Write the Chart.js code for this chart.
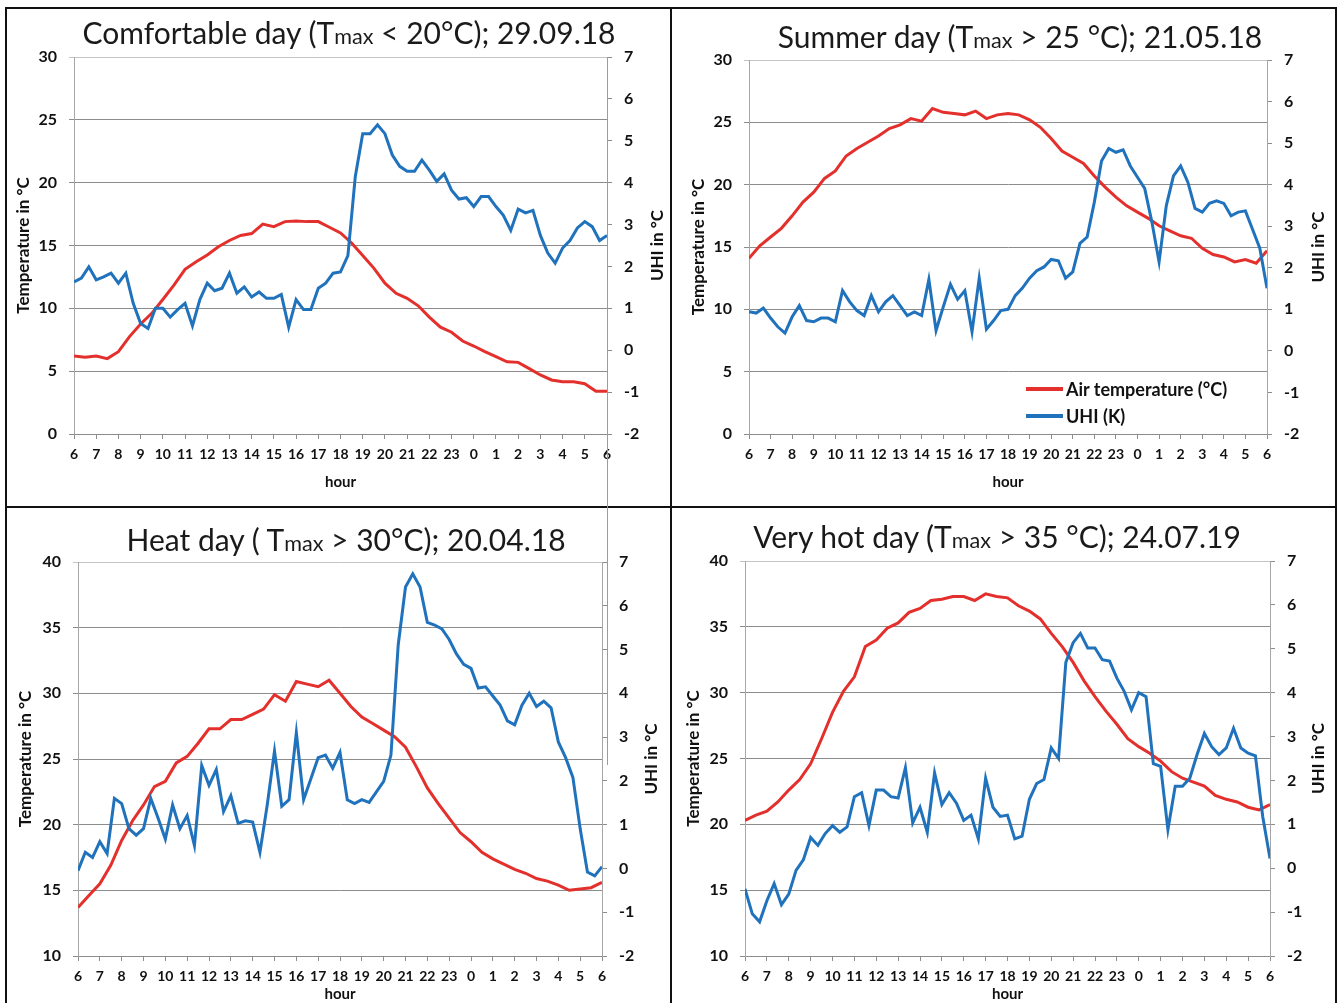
<!DOCTYPE html>
<html>
<head>
<meta charset="utf-8">
<script src="https://cdn.jsdelivr.net/npm/chart.js@4.4.1/dist/chart.umd.min.js"></script>
<style>
  html, body { margin: 0; padding: 0; background: #fff; }
  body { width: 1341px; height: 1003px; position: relative; overflow: hidden; font-family: Lato, "Open Sans", sans-serif; }
  .line { position: absolute; background: #111; }
  .panel { position: absolute; }
  .panel canvas { display: block; }
  .title { position: absolute; width: 640px; text-align: center; font-size: 30px; line-height: 34px; color: #1a1a1a; white-space: nowrap; }
  .title span { font-size: 0.72em; }
  .legend { position: absolute; font-weight: bold; font-size: 18px; color: #111; }
  .legend div { display: flex; align-items: center; height: 27px; white-space: nowrap; }
  .legend i { display: inline-block; width: 37px; height: 4px; margin-right: 3px; }
</style>
</head>
<body>

<!-- frame lines -->
<div class="line" style="left:5px;top:7px;width:2px;height:996px"></div>
<div class="line" style="left:5px;top:7px;width:1332px;height:2px"></div>
<div class="line" style="left:1335px;top:7px;width:2px;height:996px"></div>
<div class="line" style="left:670px;top:7px;width:2px;height:996px"></div>
<div class="line" style="left:5px;top:506px;width:1332px;height:2px"></div>

<div class="panel" style="left:7px;top:9px;width:663px;height:497px"><canvas id="c1"></canvas></div>
<div class="panel" style="left:672px;top:9px;width:663px;height:497px"><canvas id="c2"></canvas></div>
<div class="panel" style="left:7px;top:508px;width:663px;height:495px"><canvas id="c3"></canvas></div>
<div class="panel" style="left:672px;top:508px;width:663px;height:495px"><canvas id="c4"></canvas></div>

<!-- right axis of the first chart runs on into the lower panel -->
<div style="position:absolute;left:607px;top:434px;width:1px;height:331px;background:#7f9fd6"></div>

<div class="title" id="t1" style="left:29px;top:15px"></div>
<div class="title" id="t2" style="left:700px;top:19px"></div>
<div class="title" id="t3" style="left:26px;top:522px"></div>
<div class="title" id="t4" style="left:677px;top:519px"></div>

<div class="legend" id="legend" style="left:1026px;top:375px"></div>

<script>
// hour labels along the x axis (06:00 to 06:00 next day)
const hourTicks = [6, 7, 8, 9, 10, 11, 12, 13, 14, 15, 16, 17, 18, 19, 20, 21, 22, 23, 0, 1, 2, 3, 4, 5, 6];

const seriesNames = ['Air temperature (°C)', 'UHI (K)'];

// titles split around the small "max" of Tmax
const titles = [
    ['Comfortable day (T', 'max', ' < 20°C); 29.09.18'],
    ['Summer day (T', 'max', ' > 25 °C); 21.05.18'],
    ['Heat day ( T', 'max', ' > 30°C); 20.04.18'],
    ['Very hot day (T', 'max', ' > 35 °C); 24.07.19']
];

// --- air temperature, every 30 min from 06:00 ---
const tempComfort = [6.2, 6.1, 6.2, 6.0, 6.55, 7.75, 8.75, 9.6, 10.7, 11.85, 13.1, 13.7, 14.25, 14.9, 15.4, 15.8, 15.95, 16.7, 16.5, 16.9, 16.95, 16.9, 16.9, 16.45, 16.0,
    15.2, 14.2, 13.2, 12.0, 11.2, 10.8, 10.2, 9.3, 8.5, 8.1, 7.4, 7.0, 6.55, 6.15, 5.75, 5.7, 5.2, 4.7, 4.3, 4.15, 4.15, 4.0, 3.4, 3.4];
const tempSummer = [14.1, 15.1, 15.8, 16.5, 17.5, 18.6, 19.4, 20.5, 21.1, 22.3, 22.9, 23.4, 23.9, 24.5, 24.8, 25.3, 25.1, 26.1, 25.8, 25.7, 25.6, 25.9, 25.3, 25.6, 25.7,
    25.6, 25.2, 24.6, 23.7, 22.7, 22.2, 21.7, 20.7, 19.8, 19.0, 18.3, 17.8, 17.3, 16.7, 16.3, 15.9, 15.7, 14.9, 14.4, 14.2, 13.8, 14.0, 13.7, 14.7];
const tempHeat = [13.7, 14.6, 15.5, 16.9, 18.8, 20.3, 21.5, 22.9, 23.3, 24.7, 25.2, 26.2, 27.3, 27.3, 28.0, 28.0, 28.4, 28.8, 29.9, 29.4, 30.9, 30.7, 30.5, 31.0, 30.0,
    29.0, 28.2, 27.7, 27.2, 26.7, 25.9, 24.4, 22.8, 21.6, 20.5, 19.4, 18.7, 17.9, 17.4, 17.0, 16.6, 16.3, 15.9, 15.7, 15.4, 15.0, 15.1, 15.2, 15.6];
const tempHot = [20.3, 20.7, 21.0, 21.7, 22.6, 23.4, 24.6, 26.5, 28.5, 30.1, 31.2, 33.5, 34.0, 34.9, 35.3, 36.1, 36.4, 37.0, 37.1, 37.3, 37.3, 37.0, 37.5, 37.3, 37.2,
    36.6, 36.2, 35.6, 34.5, 33.5, 32.3, 30.9, 29.7, 28.6, 27.6, 26.5, 25.9, 25.4, 24.8, 24.0, 23.5, 23.2, 22.9, 22.2, 21.9, 21.7, 21.3, 21.1, 21.5];

// --- UHI, every 20 min from 06:00 ---
const uhiComfort = [1.63, 1.72, 1.99, 1.68, 1.75, 1.84, 1.6, 1.84, 1.12, 0.64, 0.52, 1.0, 1.0, 0.79, 0.97, 1.12, 0.58, 1.21, 1.6, 1.42,
    1.48, 1.84, 1.36, 1.51, 1.27, 1.39, 1.24, 1.24, 1.33, 0.55, 1.21, 0.97, 0.97, 1.48, 1.6, 1.84, 1.87,
    2.26, 4.15, 5.17, 5.17, 5.38, 5.17, 4.66, 4.39, 4.27, 4.27, 4.54, 4.3, 4.03, 4.21, 3.82, 3.61, 3.64, 3.43, 3.67, 3.67,
    3.43, 3.22, 2.86, 3.37, 3.28, 3.34, 2.74, 2.32, 2.08, 2.44, 2.62, 2.92, 3.07, 2.95, 2.62, 2.74];
const uhiSummer = [0.94, 0.91, 1.03, 0.79, 0.58, 0.43, 0.82, 1.09, 0.73, 0.70, 0.79, 0.79, 0.70, 1.45, 1.18, 0.97, 0.85, 1.33, 0.94, 1.18,
    1.33, 1.09, 0.85, 0.94, 0.85, 1.72, 0.49, 1.06, 1.60, 1.24, 1.45, 0.46, 1.75, 0.52, 0.73, 0.97, 1.0,
    1.33, 1.51, 1.75, 1.93, 2.02, 2.2, 2.17, 1.75, 1.9, 2.59, 2.74, 3.58, 4.57, 4.87, 4.78, 4.84, 4.45, 4.18, 3.91, 3.1,
    2.14, 3.49, 4.21, 4.45, 4.06, 3.43, 3.34, 3.55, 3.61, 3.55, 3.25, 3.34, 3.37, 2.92, 2.47, 1.51];
const uhiHeat = [-0.05, 0.37, 0.25, 0.61, 0.34, 1.6, 1.48, 0.91, 0.76, 0.91, 1.6, 1.15, 0.67, 1.45, 0.91, 1.21, 0.52, 2.35, 1.9, 2.26,
    1.3, 1.66, 1.03, 1.09, 1.06, 0.37, 1.45, 2.68, 1.42, 1.57, 3.1, 1.57, 2.05, 2.53, 2.59, 2.29, 2.65,
    1.57, 1.48, 1.57, 1.51, 1.75, 1.99, 2.59, 5.11, 6.43, 6.73, 6.43, 5.62, 5.56, 5.47, 5.23, 4.9, 4.66, 4.57, 4.12, 4.15,
    3.94, 3.73, 3.37, 3.28, 3.73, 4.0, 3.7, 3.82, 3.67, 2.89, 2.53, 2.08, 0.91, -0.08, -0.17, 0.04];
const uhiHot = [-0.47, -1.04, -1.22, -0.74, -0.35, -0.83, -0.59, -0.05, 0.19, 0.7, 0.52, 0.79, 0.97, 0.82, 0.94, 1.63, 1.72, 0.97, 1.78, 1.78,
    1.63, 1.6, 2.29, 1.03, 1.39, 0.82, 2.17, 1.45, 1.72, 1.48, 1.09, 1.21, 0.67, 2.05, 1.39, 1.18, 1.21,
    0.67, 0.73, 1.57, 1.93, 2.02, 2.74, 2.5, 4.69, 5.14, 5.35, 5.02, 5.02, 4.75, 4.72, 4.33, 4.03, 3.61, 4.0, 3.91,
    2.38, 2.32, 0.88, 1.87, 1.87, 2.05, 2.59, 3.07, 2.77, 2.59, 2.74, 3.19, 2.74, 2.62, 2.56, 1.18, 0.22];

const RED = '#e3302c';
const BLUE = '#1f72bb';
const GRID = '#8c8c8c';

// spread a series evenly over the 24 hours of the day
function toPoints(values) {
    const step = 24 / (values.length - 1);
    return values.map((v, i) => ({ x: i * step, y: v }));
}

// right axis title reads bottom to top, like the left one
const rightTitle = {
    id: 'rightTitle',
    afterDraw(chart, args, opts) {
        const { ctx, chartArea } = chart;
        ctx.save();
        ctx.translate(opts.x, (chartArea.top + chartArea.bottom) / 2);
        ctx.rotate(-Math.PI / 2);
        ctx.font = 'bold 17px Lato';
        ctx.fillStyle = '#111';
        ctx.textAlign = 'center';
        ctx.textBaseline = 'middle';
        ctx.fillText(opts.text, 0, 0);
        ctx.restore();
    }
};

// layout of every panel, in pixels inside its box
const panels = [
    { canvas: 'c1', temp: tempComfort, uhi: uhiComfort, tMin: 0, tMax: 30, area: { l: 67, t: 48, r: 63, b: 72 }, pad: { left: 6, hour: 15 }, rightX: 651, rightAxis: '#7f9fd6' },
    { canvas: 'c2', temp: tempSummer, uhi: uhiSummer, tMin: 0, tMax: 30, area: { l: 77, t: 51, r: 68, b: 72 }, pad: { left: 16, hour: 15 }, rightX: 647, rightAxis: '#a6a6a6' },
    { canvas: 'c3', temp: tempHeat, uhi: uhiHeat, tMin: 10, tMax: 40, area: { l: 71, t: 54, r: 68, b: 47 }, pad: { left: 8, hour: 0 }, rightX: 645, rightAxis: '#a6a6a6' },
    { canvas: 'c4', temp: tempHot, uhi: uhiHot, tMin: 10, tMax: 40, area: { l: 73, t: 53, r: 65, b: 47 }, pad: { left: 11, hour: 0 }, rightX: 647, rightAxis: '#a6a6a6' }
];

const tickFont = { family: 'Lato', size: 16, weight: 'bold' };
const axisFont = { family: 'Lato', size: 17, weight: 'bold' };

const charts = panels.map(p => new Chart(document.getElementById(p.canvas), {
    type: 'line',
    data: {
        datasets: [
            { label: seriesNames[0], data: toPoints(p.temp), yAxisID: 'y', borderColor: RED, borderWidth: 3, pointRadius: 0, order: 1 },
            { label: seriesNames[1], data: toPoints(p.uhi), yAxisID: 'y1', borderColor: BLUE, borderWidth: 3, pointRadius: 0, order: 0 }
        ]
    },
    plugins: [rightTitle],
    options: {
        responsive: true,
        maintainAspectRatio: false,
        animation: false,
        layout: { padding: { top: p.area.t, left: 0, right: 0, bottom: 0 } },
        plugins: {
            legend: { display: false },
            tooltip: { enabled: false },
            rightTitle: { text: 'UHI in °C', x: p.rightX }
        },
        scales: {
            x: {
                type: 'linear', min: 0, max: 24,
                afterFit: s => { s.height = p.area.b; },
                ticks: {
                    stepSize: 1, autoSkip: false, maxRotation: 0, minRotation: 0, padding: 7,
                    color: '#111', font: { family: 'Lato', size: 14, weight: 'bold' },
                    callback: v => hourTicks[v]
                },
                grid: { drawOnChartArea: false, tickLength: 5, color: GRID },
                border: { color: GRID },
                title: { display: true, text: 'hour', color: '#111', font: { family: 'Lato', size: 15, weight: 'bold' }, padding: { top: 0, bottom: p.pad.hour } }
            },
            y: {
                position: 'left', min: p.tMin, max: p.tMax,
                afterFit: s => { s.width = p.area.l; },
                ticks: { stepSize: 5, padding: 12, color: '#111', font: tickFont },
                grid: { tickLength: 5, color: c => c.tick && c.tick.value === p.tMax ? '#c4c4c4' : GRID },
                border: { color: '#a6a6a6' },
                title: { display: true, text: 'Temperature in °C', color: '#111', font: axisFont, padding: { top: p.pad.left, bottom: 0 } }
            },
            y1: {
                position: 'right', min: -2, max: 7,
                afterFit: s => { s.width = p.area.r; },
                ticks: { stepSize: 1, padding: 12, color: '#111', font: tickFont },
                grid: { drawOnChartArea: false, tickLength: 5, color: GRID },
                border: { color: p.rightAxis }
            }
        }
    }
}));

// chart titles with the small "max"
titles.forEach((t, i) => {
    const el = document.getElementById('t' + (i + 1));
    el.append(t[0]);
    const sub = document.createElement('span');
    sub.textContent = t[1];
    el.append(sub, t[2]);
});

// legend inside the summer day chart, built from its datasets
const legendBox = document.getElementById('legend');
charts[1].data.datasets.forEach(ds => {
    const row = document.createElement('div');
    const swatch = document.createElement('i');
    swatch.style.background = ds.borderColor;
    row.append(swatch, ds.label);
    legendBox.append(row);
});
</script>
</body>
</html>
